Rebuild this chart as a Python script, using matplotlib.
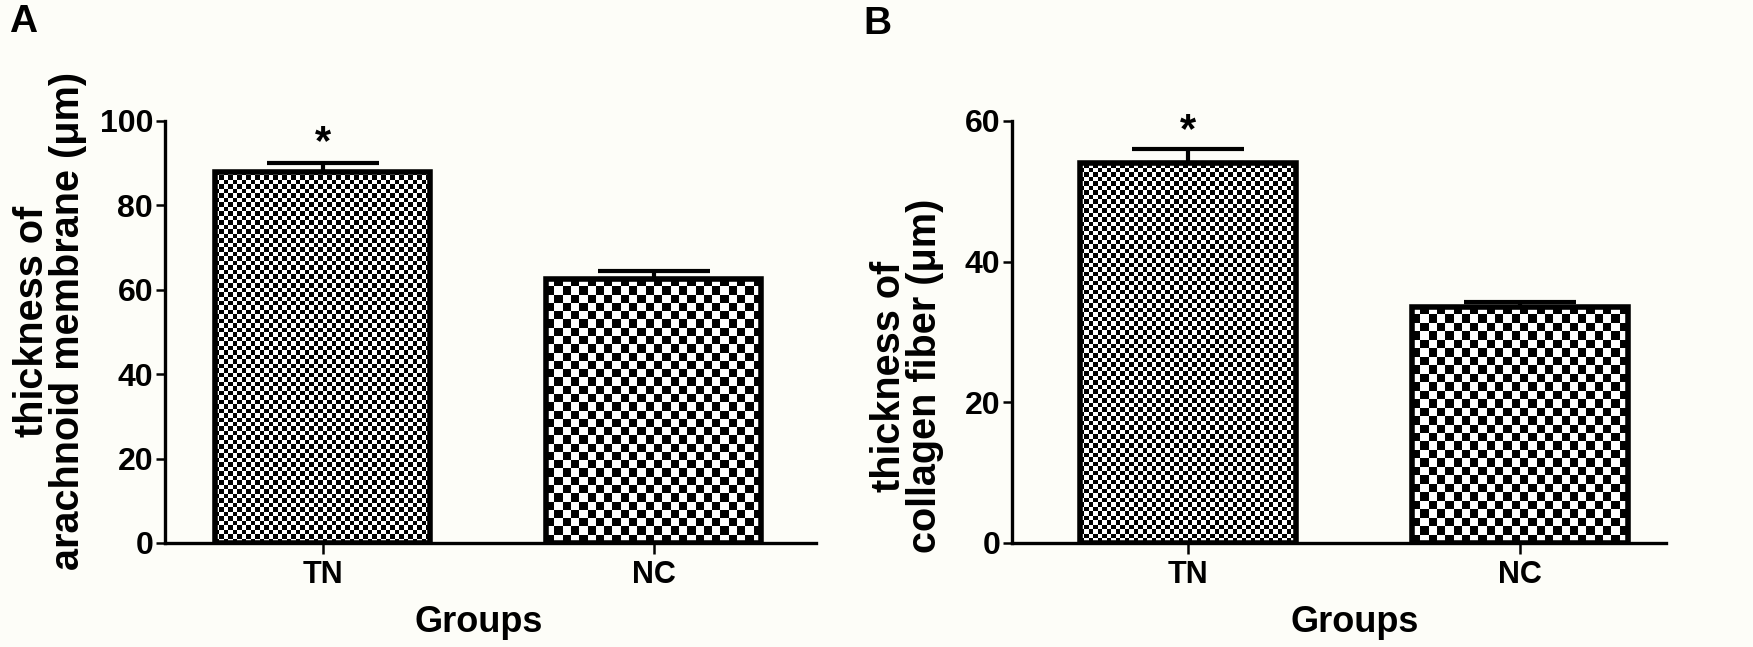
import matplotlib
matplotlib.use("Agg")
import matplotlib.pyplot as plt
import numpy as np

plt.rcParams["font.family"] = ["Liberation Sans", "DejaVu Sans"]

# -----------------------
# DATA
# -----------------------
groups = ["TN", "NC"]
arachnoid_mean = [88.0, 62.6]
arachnoid_sem = [2.0, 1.9]
collagen_mean = [54.0, 33.6]
collagen_sem = [2.0, 0.7]
significant = [True, False]

# checker cell size (pixels) per group
cell_px = [4.5, 8.3]

W, H = 1753, 647
DPI = 100
BG = "#fdfdf8"


def checker_fill(ax, bar, cell):
    fig = ax.figure
    fig.canvas.draw()
    bbox = ax.get_window_extent()
    x0, x1 = ax.get_xlim()
    y0, y1 = ax.get_ylim()
    ppx = bbox.width / (x1 - x0)
    ppy = bbox.height / (y1 - y0)
    bx, by = bar.get_x(), bar.get_y()
    bw, bh = bar.get_width(), bar.get_height()
    ncol = max(1, int(round(bw * ppx / cell)))
    nrow = max(1, int(round(bh * ppy / cell)))
    arr = np.indices((nrow, ncol)).sum(axis=0) % 2
    im = ax.imshow(arr, cmap="gray", vmin=0, vmax=1, origin="lower",
                   extent=(bx, bx + bw, by, by + bh), interpolation="nearest",
                   aspect="auto", zorder=1)
    im.set_clip_path(bar)
    ax.set_xlim(x0, x1)
    ax.set_ylim(y0, y1)


def panel(fig, rect, means, sems, ymax, yticks, xlim, star_y):
    ax = fig.add_axes(rect)
    ax.set_facecolor(BG)
    x = np.arange(len(groups))
    ax.errorbar(x, means, yerr=[np.zeros(len(sems)), sems], fmt="none",
                ecolor="black", elinewidth=3, capsize=40, capthick=3, zorder=2)
    bars = ax.bar(x, means, width=0.65, facecolor="none", edgecolor="black",
                  linewidth=4, zorder=3)
    ax.set_xlim(*xlim)
    ax.set_ylim(0, ymax)
    for b, c in zip(bars, cell_px):
        checker_fill(ax, b, c)
    for xi, sig in zip(x, significant):
        if sig:
            ax.text(xi, star_y, "*", ha="center", va="center", fontsize=30,
                    fontweight="bold")
    ax.set_xticks(x)
    ax.set_xticklabels(groups, fontsize=22, fontweight="bold")
    ax.set_yticks(yticks)
    ax.set_yticklabels([str(t) for t in yticks], fontsize=23, fontweight="bold")
    for sp in ["top", "right"]:
        ax.spines[sp].set_visible(False)
    for sp in ["left", "bottom"]:
        ax.spines[sp].set_linewidth(2.4)
    ax.tick_params(axis="y", length=6.5, width=1.8, pad=2)
    ax.tick_params(axis="x", length=8, width=1.8, pad=4)
    return ax


fig = plt.figure(figsize=(W / DPI, H / DPI), dpi=DPI, facecolor=BG)

ax_bottom = 104 / H
ax_height = 422 / H

panel(fig, [165 / W, ax_bottom, 651 / W, ax_height], arachnoid_mean, arachnoid_sem,
      100, [0, 20, 40, 60, 80, 100], (-0.477, 1.49), 94.8)
panel(fig, [1012 / W, ax_bottom, 654 / W, ax_height], collagen_mean, collagen_sem,
      60, [0, 20, 40, 60], (-0.53, 1.44), 58.6)

fig.text(50 / W, 1 - 321 / H, "thickness of\narachnoid membrane (\u03bcm)", rotation=90,
         ha="center", va="center", multialignment="center", fontsize=28.5,
         fontweight="bold", linespacing=0.95)
fig.text(907 / W, 1 - 376 / H, "thickness of\ncollagen fiber (\u03bcm)", rotation=90,
         ha="center", va="center", multialignment="center", fontsize=28.5,
         fontweight="bold", linespacing=0.95)

fig.text(479 / W, 1 - 622 / H, "Groups", ha="center", va="center", fontsize=26,
         fontweight="bold")
fig.text(1355 / W, 1 - 622 / H, "Groups", ha="center", va="center", fontsize=26,
         fontweight="bold")

fig.text(9 / W, 1 - 4 / H, "A", ha="left", va="top", fontsize=28, fontweight="bold")
fig.text(863 / W, 1 - 6 / H, "B", ha="left", va="top", fontsize=28, fontweight="bold")

fig.savefig("out.png", dpi=DPI, facecolor=BG)
